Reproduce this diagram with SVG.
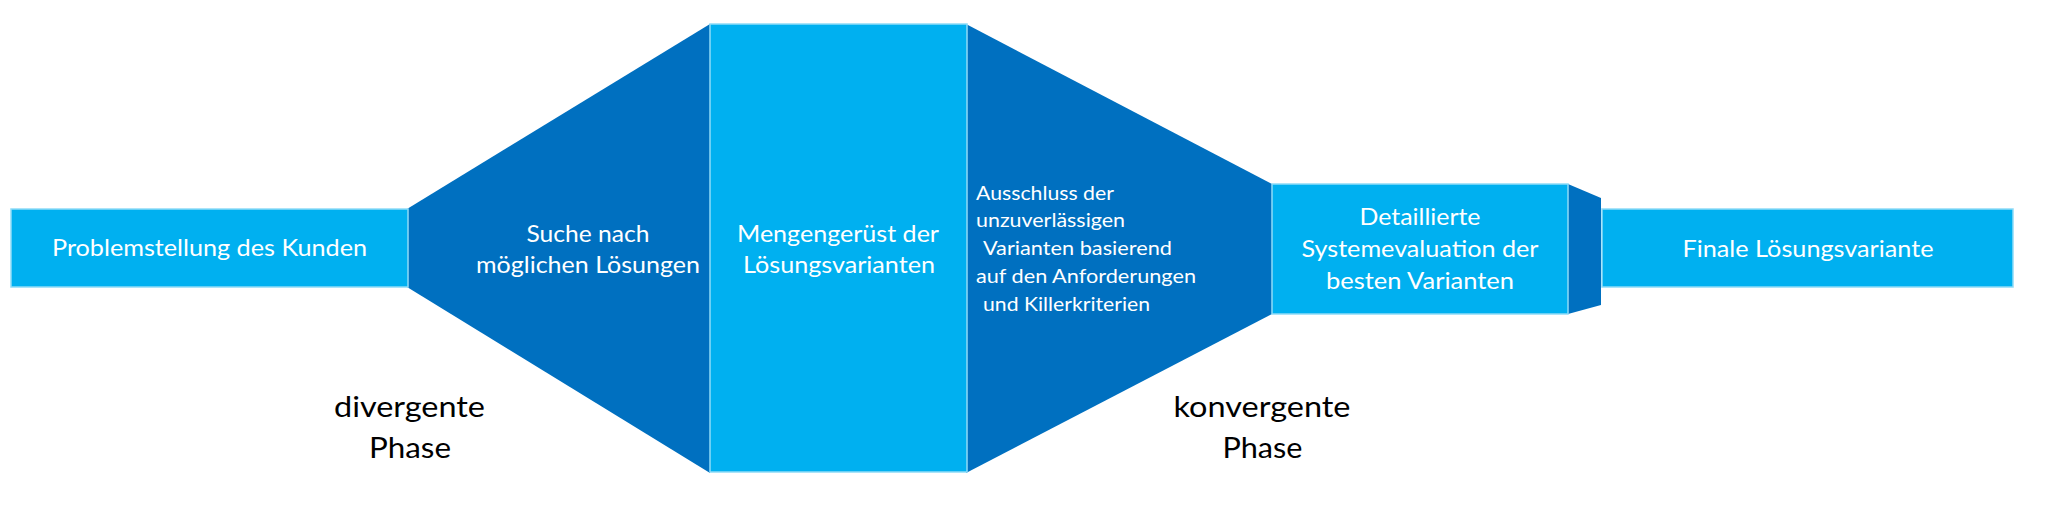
<svg xmlns="http://www.w3.org/2000/svg" width="2048" height="514" viewBox="0 0 2048 514">
  <style>
    .light { fill: #00B0F0; stroke: #8FDBF7; stroke-width: 1.5; }
    .dark { fill: #0070C0; stroke: none; }
    .t { font-family: Lato, "Liberation Sans", sans-serif; fill: #FFFFFF; font-size: 23px; }
    .ts { font-family: Lato, "Liberation Sans", sans-serif; fill: #FFFFFF; font-size: 20px; }
    .tp { font-family: Lato, "Liberation Sans", sans-serif; fill: #000000; font-size: 28px; }
  </style>
  <rect width="2048" height="514" fill="#FFFFFF"/>

  <g id="suche">
    <polygon class="dark" points="407,209 710,24 710,473 407,287"/>
    <text class="t" x="588" y="242" text-anchor="middle" textLength="123" lengthAdjust="spacingAndGlyphs">Suche nach</text>
    <text class="t" x="588" y="273" text-anchor="middle" textLength="224" lengthAdjust="spacingAndGlyphs">möglichen Lösungen</text>
  </g>

  <g id="ausschluss">
    <polygon class="dark" points="966,24 1272,184 1272,314 966,473"/>
    <text class="ts" x="976" y="200" textLength="138" lengthAdjust="spacingAndGlyphs">Ausschluss der</text>
    <text class="ts" x="976" y="227" textLength="149" lengthAdjust="spacingAndGlyphs">unzuverlässigen</text>
    <text class="ts" x="983" y="255" textLength="189" lengthAdjust="spacingAndGlyphs">Varianten basierend</text>
    <text class="ts" x="976" y="283" textLength="220" lengthAdjust="spacingAndGlyphs">auf den Anforderungen</text>
    <text class="ts" x="983" y="311" textLength="167" lengthAdjust="spacingAndGlyphs">und Killerkriterien</text>
  </g>

  <g id="uebergang">
    <polygon class="dark" points="1568,184 1601,198 1601,305 1568,314"/>
  </g>

  <g id="problemstellung">
    <rect class="light" x="11" y="209" width="397" height="78"/>
    <text class="t" x="209.5" y="256" text-anchor="middle" textLength="315" lengthAdjust="spacingAndGlyphs">Problemstellung des Kunden</text>
  </g>

  <g id="mengengeruest">
    <rect class="light" x="710" y="24" width="257" height="448"/>
    <text class="t" x="838" y="242" text-anchor="middle" textLength="202" lengthAdjust="spacingAndGlyphs">Mengengerüst der</text>
    <text class="t" x="839" y="273" text-anchor="middle" textLength="192" lengthAdjust="spacingAndGlyphs">Lösungsvarianten</text>
  </g>

  <g id="systemevaluation">
    <rect class="light" x="1272" y="184" width="296" height="130"/>
    <text class="t" x="1420" y="225" text-anchor="middle" textLength="121" lengthAdjust="spacingAndGlyphs">Detaillierte</text>
    <text class="t" x="1420" y="257" text-anchor="middle" textLength="237" lengthAdjust="spacingAndGlyphs">Systemevaluation der</text>
    <text class="t" x="1420" y="289" text-anchor="middle" textLength="188" lengthAdjust="spacingAndGlyphs">besten Varianten</text>
  </g>

  <g id="finale">
    <rect class="light" x="1602" y="209" width="411" height="78"/>
    <text class="t" x="1808" y="257" text-anchor="middle" textLength="251" lengthAdjust="spacingAndGlyphs">Finale Lösungsvariante</text>
  </g>

  <g id="divergente-phase">
    <text class="tp" x="409.5" y="417" text-anchor="middle" textLength="151" lengthAdjust="spacingAndGlyphs">divergente</text>
    <text class="tp" x="410" y="458" text-anchor="middle" textLength="82" lengthAdjust="spacingAndGlyphs">Phase</text>
  </g>

  <g id="konvergente-phase">
    <text class="tp" x="1262" y="417" text-anchor="middle" textLength="177" lengthAdjust="spacingAndGlyphs">konvergente</text>
    <text class="tp" x="1262.5" y="458" text-anchor="middle" textLength="80" lengthAdjust="spacingAndGlyphs">Phase</text>
  </g>

  <g id="connectors"/>
</svg>
